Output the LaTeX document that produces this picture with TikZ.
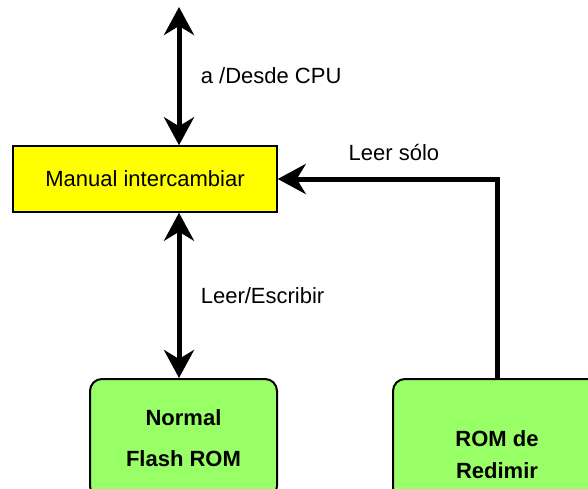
\documentclass[tikz,border=0pt]{standalone}
\usepackage{fontspec}
\setmainfont{Liberation Sans}
\usetikzlibrary{arrows.meta, positioning}
\definecolor{swapyellow}{HTML}{FFFF00}
\definecolor{romgreen}{HTML}{99FF66}

\begin{document}
\begin{tikzpicture}[x=1pt, y=-1pt,
        swapbox/.style={draw, line width=1.5pt, fill=swapyellow, minimum width=264pt, minimum height=66pt, font=\fontsize{22}{26}\selectfont},
        rombox/.style={draw, line width=2pt, fill=romgreen, rounded corners=12pt, align=center, font=\fontsize{22}{26}\selectfont\bfseries},
        lbl/.style={font=\fontsize{22}{26}\selectfont},
        bus/.style={line width=5pt, {Stealth[length=28pt, width=30pt, inset=9pt]}-{Stealth[length=28pt, width=30pt, inset=9pt]}},
        feed/.style={line width=5pt, -{Stealth[length=28pt, width=30pt, inset=9pt]}}
    ]
        \useasboundingbox (0,0) rectangle (588,489);
        \clip (0,0) rectangle (588,489);

        % Nodes
        \node[swapbox] (swap) at (145,179) {Manual intercambiar};
        \node[rombox, minimum width=187pt, minimum height=119pt, anchor=north] (flash) at (183.5,378) {Normal\\[15pt]Flash ROM};
        \node[rombox, minimum width=208pt, minimum height=151pt, anchor=north west] (redimir) at (392,378) {ROM de\\[6pt]Redimir};

        % Bus to the CPU
        \coordinate (cpu) at (179,7);
        \draw[bus] (cpu) -- node[lbl, right=16pt] {a /Desde CPU} (cpu |- swap.north);

        % Flash ROM link
        \draw[bus] (cpu |- swap.south) -- node[lbl, right=16pt] {Leer/Escribir} (cpu |- flash.north);

        % Read-only path from the recovery ROM
        \draw[feed] (redimir.north) |- node[lbl, pos=0.735, above=12pt] {Leer sólo} (swap.east);

    \end{tikzpicture}
\end{document}
